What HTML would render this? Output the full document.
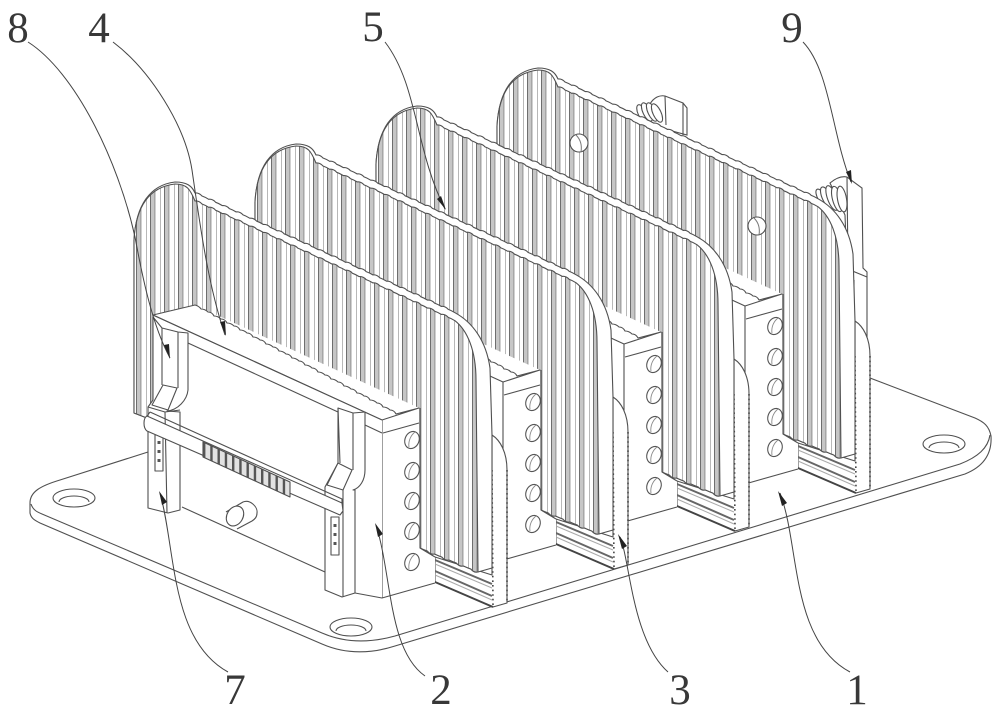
<!DOCTYPE html>
<html><head><meta charset="utf-8"><style>html,body{margin:0;padding:0;background:#fff}svg{display:block;filter:blur(.35px)}text{font-family:"Liberation Serif",serif;font-size:43px;fill:#383838;text-anchor:middle}</style></head>
<body>
<svg xmlns="http://www.w3.org/2000/svg" width="1000" height="714" viewBox="0 0 1000 714">
<defs>
<pattern id="st" patternUnits="userSpaceOnUse" x="10" width="14" height="20">
<rect width="14" height="20" fill="#fff"/>
<rect x="0" width="4.4" height="20" fill="#c6c6c6"/>
<rect x="0" width="1" height="20" fill="#6e6e6e"/>
<rect x="4.4" width="1" height="20" fill="#8a8a8a"/>
<rect x="10" width="1" height="20" fill="#b8b8b8"/>
</pattern>
<pattern id="tt" patternUnits="userSpaceOnUse" width="7.25" height="20">
<rect width="7.25" height="20" fill="#e2e2e2"/>
<rect width="2.4" height="20" fill="#555"/>
</pattern>
<g id="h"><ellipse cx="0" cy="0" rx="7" ry="8.8" transform="rotate(22)" fill="#fff" stroke="#555" stroke-width="1.1"/><path d="M-3,7 C-4,1 -1,-5 3,-8" fill="none" stroke="#888" stroke-width=".9"/></g>
<g id="u" fill="#fff" stroke="#505050" stroke-width="1.1" stroke-linejoin="round">
<path d="M492,435 C500,440 507,452 507,470 L507,603 L493,607 L435,582 L435,557 L492,575 Z"/>
<path d="M492,470 L493,607 M507,470 L507,603" fill="none" stroke="#444" stroke-width="1.6" stroke-dasharray="1.6 3"/>
<path d="M435,560 L492,584 M435,571 L492,596" fill="none" stroke="#666" stroke-width="2"/>
<path d="M435,564 L492,588 M435,575 L492,600" fill="none" stroke="#aaa" stroke-width="1"/>
<path d="M435,582 L493,607" fill="none" stroke="#444" stroke-width="2"/>
<path d="M134,413 L134,240 C136,205 150,185 175,182 C187,182 192,186 195,193 q4,-.5 7,3 q3,1 6.68,3.3 q4,-.5 7,3 q3,1 6.68,3.3 q4,-.5 7,3 q3,1 6.68,3.3 q4,-.5 7,3 q3,1 6.68,3.3 q4,-.5 7,3 q3,1 6.68,3.3 q4,-.5 7,3 q3,1 6.68,3.3 q4,-.5 7,3 q3,1 6.68,3.3 q4,-.5 7,3 q3,1 6.68,3.3 q4,-.5 7,3 q3,1 6.68,3.3 q4,-.5 7,3 q3,1 6.68,3.3 q4,-.5 7,3 q3,1 6.68,3.3 q4,-.5 7,3 q3,1 6.68,3.3 q4,-.5 7,3 q3,1 6.68,3.3 q4,-.5 7,3 q3,1 6.68,3.3 q4,-.5 7,3 q3,1 6.68,3.3 q4,-.5 7,3 q3,1 6.68,3.3 q4,-.5 7,3 q3,1 6.68,3.3 q4,-.5 7,3 q3,1 6.68,3.3 q4,-.5 7,3 q3,1 6.68,3.3 C472,322 486,340 490,368 L492,435 L492,568 L478,572 L420,548 L147,418 Z"/>
<path fill="url(#st)" d="M134,413 L134,240 C136,205 150,187 175,184 C187,184 190,189 195,201 q4,-.5 7,3 q3,1 6.68,3.3 q4,-.5 7,3 q3,1 6.68,3.3 q4,-.5 7,3 q3,1 6.68,3.3 q4,-.5 7,3 q3,1 6.68,3.3 q4,-.5 7,3 q3,1 6.68,3.3 q4,-.5 7,3 q3,1 6.68,3.3 q4,-.5 7,3 q3,1 6.68,3.3 q4,-.5 7,3 q3,1 6.68,3.3 q4,-.5 7,3 q3,1 6.68,3.3 q4,-.5 7,3 q3,1 6.68,3.3 q4,-.5 7,3 q3,1 6.68,3.3 q4,-.5 7,3 q3,1 6.68,3.3 q4,-.5 7,3 q3,1 6.68,3.3 q4,-.5 7,3 q3,1 6.68,3.3 q4,-.5 7,3 q3,1 6.68,3.3 q4,-.5 7,3 q3,1 6.68,3.3 q4,-.5 7,3 q3,1 6.68,3.3 q4,-.5 7,3 q3,1 6.68,3.3 q4,-.5 7,3 q3,1 6.68,3.3 C467,330 476,350 476,380 L478,572 q-4,1 -7.2,-3 q-3,-1 -7.3,-3 q-4,1 -7.2,-3 q-3,-1 -7.3,-3 q-4,1 -7.2,-3 q-3,-1 -7.3,-3 q-4,1 -7.2,-3 q-3,-1 -7.3,-3 L147,418 Z"/>
<path d="M153,315 L195,305 L419,408 L420,548 L435,557 L435,583 L383,598 L153,495 Z" stroke="none"/>
<path d="M153,315 L195,305 q4,1 6,4 q4,0 7,3 q4,0 6,4 q4,0 7,3 q4,0 6,4 q4,0 7,3 q4,0 6,4 q4,0 7,3 q4,0 6,4 q4,0 7,3 q4,0 6,4 q4,0 7,3 q4,0 6,4 q4,0 7,3 q4,0 6,4 q4,0 7,3 q4,0 6,4 q4,0 7,3 q4,0 6,4 q4,0 7,3 q4,0 6,4 q4,0 7,3 q4,0 6,4 q4,0 7,3 q4,0 6,4 q4,0 7,3 q4,0 6,4 q4,0 7,3 q4,0 6,4 q4,0 7,3 q4,0 6,4 L419,408 L382,420 Z"/>
<path d="M382,420 L382,598 L435,583 M420,408 L420,548 L435,557 M383,433 L419,423" fill="none"/>
<use href="#h" x="412" y="440"/><use href="#h" x="412" y="471"/><use href="#h" x="412" y="501"/><use href="#h" x="412" y="531"/><use href="#h" x="412" y="562"/>
</g>
</defs>

<rect width="1000" height="714" fill="#fff"/>

<!-- base plate -->
<g fill="#fff" stroke="#505050" stroke-width="1.1">
<path d="M148,452 L60,480 C40,486 30,492 30,503 L30,513 C31,518 34,520 40,523 L322,644 C345,654 370,654 395,646 L965,474 C985,466 992,452 991,436 C989,426 984,422 975,418 L870,378 L700,300 L300,400 Z"/>
<path d="M31,504 C33,510 37,512 42,514 L322,633 C345,643 370,643 395,636 L960,464 C978,457 988,448 990,435" fill="none"/>
<ellipse cx="74" cy="498" rx="21" ry="9"/><path d="M59,502 A15,6 0 0 1 89,502" fill="none"/>
<ellipse cx="351" cy="627" rx="21" ry="9"/><path d="M336,631 A15,6 0 0 1 366,631" fill="none"/>
<ellipse cx="944" cy="444" rx="21" ry="9"/><path d="M929,448 A15,6 0 0 1 959,448" fill="none"/>
</g>

<!-- rear brackets and springs -->
<g fill="#fff" stroke="#505050" stroke-width="1.1">
<path d="M650,125 L650,104 C654,97 660,95 665,96 L683,103 L687,108 L687,135 Z"/>
<path d="M665,96 L666,125 M683,103 L683,135" fill="none"/>
<ellipse cx="642" cy="113" rx="4" ry="9" transform="rotate(-25 642 113)"/>
<ellipse cx="647" cy="112" rx="4" ry="10" transform="rotate(-25 647 112)"/>
<ellipse cx="652" cy="112" rx="4" ry="10" transform="rotate(-25 652 112)"/>
<ellipse cx="657" cy="113" rx="4" ry="10" transform="rotate(-25 657 113)"/>
<path d="M830,183 C836,178 842,176 847,177 L862,188 L863,268 L867,272 L867,342 L850,342 L845,215 Z"/>
<path d="M847,177 L848,268 M850,270 L867,277 M854,280 L854,342" fill="none"/>
<ellipse cx="822" cy="198" rx="4" ry="10" transform="rotate(-30 822 198)"/>
<ellipse cx="827" cy="198" rx="4.5" ry="12" transform="rotate(-25 827 198)"/>
<ellipse cx="832" cy="198" rx="4.5" ry="13" transform="rotate(-20 832 198)"/>
<ellipse cx="837" cy="199" rx="4.5" ry="13" transform="rotate(-15 837 199)"/>
<ellipse cx="842" cy="199" rx="4.5" ry="13" transform="rotate(-10 842 199)"/>
</g>

<use href="#u" x="363" y="-114"/>
<circle cx="579" cy="143" r="9" fill="#fff" stroke="#505050" stroke-width="1.1"/><path d="M576,135 C581,140 582,146 581,152" fill="none" stroke="#777"/>
<circle cx="757" cy="226" r="9" fill="#fff" stroke="#505050" stroke-width="1.1"/><path d="M754,218 C759,223 760,229 759,235" fill="none" stroke="#777"/>
<use href="#u" x="242" y="-76"/>
<use href="#u" x="121" y="-38"/>
<use href="#u" x="0" y="0"/>

<!-- front face -->
<g fill="#fff" stroke="#505050" stroke-width="1.1" stroke-linejoin="round">
<path d="M153,317 L382,420 L382,598 L355,593 L182,507 L153,495 Z" stroke="none"/>
<path d="M153,315 L382,420 M188,343 L338,412 M365,425 L382,433 M182,507 L325,572 M355,593 L382,598" fill="none"/>
<path d="M226,512 L243,502 C250,499 258,507 257,513 C257,517 255,519 252,521 L237,529" />
<ellipse cx="235" cy="516" rx="8" ry="10.5" transform="rotate(30 235 516)"/>
<!-- left pillar -->
<path d="M153,317 L162,328 L178,332 L188,333 L188,390 C187,400 178,410 167,411 L180,412 L180,510 L168,513 L148,508 L148,407 L153,400 Z"/>
<path d="M162,328 L162,385 M178,332 L178,388 M165,412 L167,513" fill="none"/>
<path d="M163,385 L177,388 L168,410 L152,405 Z"/>
<path d="M148,407 L165,412 L180,410" fill="none"/>
<rect x="155" y="435" width="8" height="36" fill="#fff"/>
<path d="M159,441 v3 M159,450 v3 M159,459 v3" stroke="#555" stroke-width="3" fill="none"/>
<!-- right pillar -->
<path d="M338,408 L353,413 L365,412 L365,470 C365,480 360,488 353,490 L355,490 L355,593 L342,597 L325,590 L325,487 L338,463 Z"/>
<path d="M338,408 L340,463 M353,413 L353,470 M343,490 L343,597" fill="none"/>
<path d="M338,463 L352,470 L343,490 L327,485 Z"/>
<rect x="331" y="517" width="8" height="38" fill="#fff"/>
<path d="M335,524 v3 M335,533 v3 M335,542 v3" stroke="#555" stroke-width="3" fill="none"/>
<!-- bar -->
<path d="M147,416 L342,503 L343,511 L340,515 L147,431 C143,428 143,418 147,416 Z"/>
<path d="M150,412 L342,499 L342,503 M150,412 L147,416" fill="none"/>
<path d="M203,442 L290,482 L290,497 L203,457 Z" fill="url(#tt)"/>
</g>

<!-- leader lines -->
<g fill="none" stroke="#444" stroke-width="1">
<path d="M28,42 C75,72 118,160 135,237 C142,275 152,325 170,358"/>
<path d="M113,42 C150,70 185,125 192,170 C200,225 208,285 225,335"/>
<path d="M385,42 C418,85 415,150 445,209"/>
<path d="M803,42 C830,70 832,135 851,182"/>
<path d="M160,493 C176,550 170,640 228,672"/>
<path d="M376,525 C392,575 388,650 425,676"/>
<path d="M620,537 C630,560 632,640 668,672"/>
<path d="M780,493 C800,545 790,640 850,672"/>
</g>
<g fill="#222" stroke="none">
<path d="M170,359 L164,345 L169,344 Z"/>
<path d="M226,336 L220,322 L225,321 Z"/>
<path d="M446,210 L437,199 L441,196 Z"/>
<path d="M852,184 L846,172 L851,170 Z"/>
<path d="M159,491 L167,502 L162,505 Z"/>
<path d="M375,523 L383,534 L378,537 Z"/>
<path d="M618,534 L627,546 L622,549 Z"/>
<path d="M778,491 L787,503 L782,506 Z"/>
</g>

<text x="18" y="42">8</text>
<text x="99" y="42">4</text>
<text x="373" y="41">5</text>
<text x="792" y="42">9</text>
<text x="235" y="704">7</text>
<text x="441" y="704">2</text>
<text x="680" y="704">3</text>
<text x="857" y="704">1</text>
</svg>
</body></html>
